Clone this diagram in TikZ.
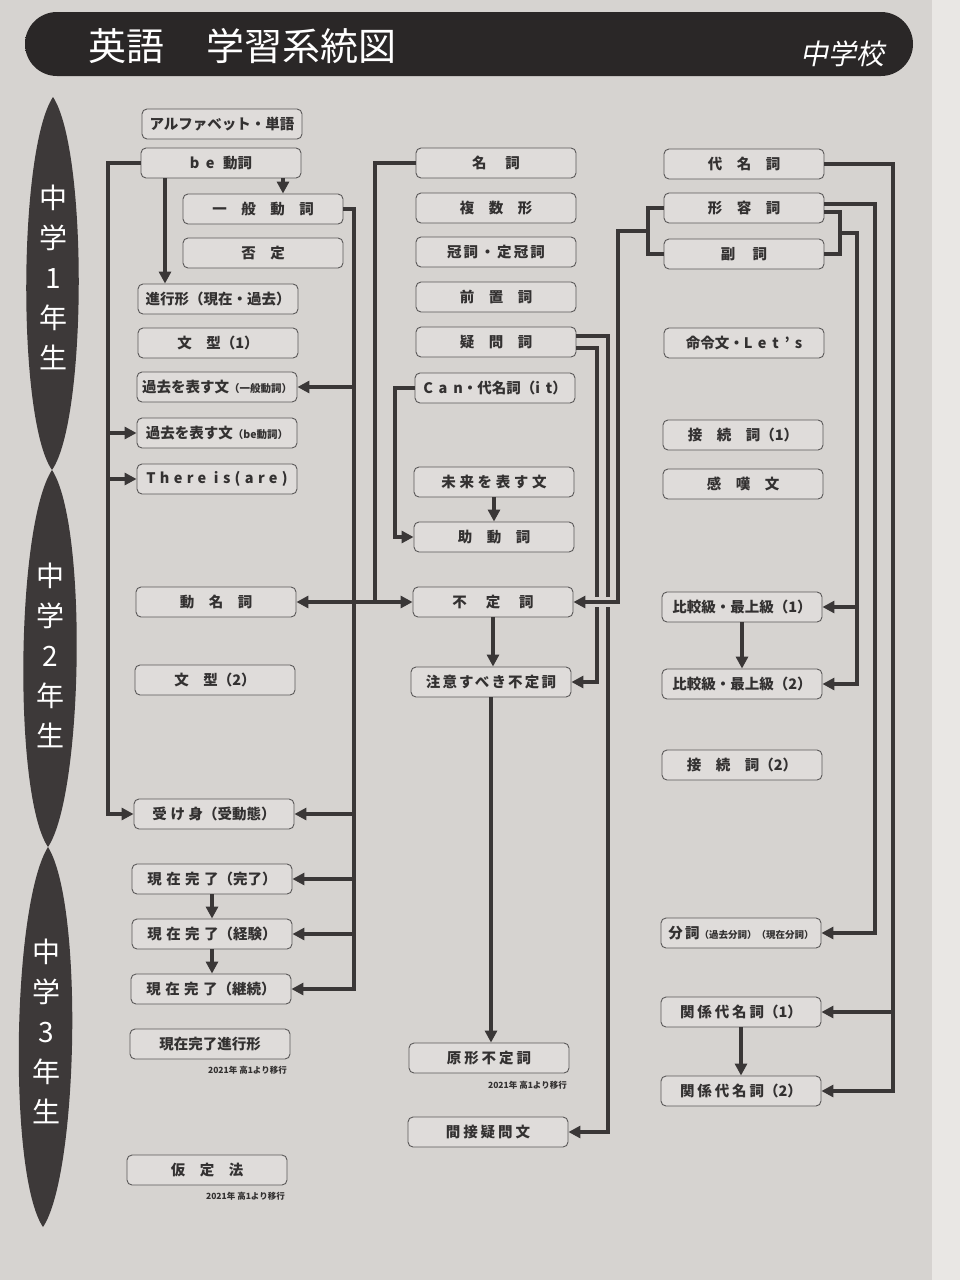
\documentclass[tikz,border=0pt]{standalone}
\usepackage{fontspec}
\newfontfamily\jp{Noto Sans CJK JP}
\usetikzlibrary{arrows.meta,calc}
\definecolor{bgc}{HTML}{D6D3D0}
\definecolor{edgec}{HTML}{E9E7E4}
\definecolor{boxfill}{HTML}{DFDCDA}
\definecolor{boxline}{HTML}{5A5858}
\definecolor{lnc}{HTML}{3A3737}
\definecolor{txt}{HTML}{333131}
\definecolor{pillc}{HTML}{3D3939}
\definecolor{hdA}{HTML}{2A2727}
\definecolor{hdB}{HTML}{5E5A5A}
\newcommand{\lsp}[2]{{\addfontfeature{LetterSpace=#1}#2}}
\newcommand{\sm}[1]{{\fontsize{10.5}{11}\selectfont #1}}
\newcommand{\gp}{\hspace{1em}}
\tikzset{
  box/.style={draw=boxline, fill=boxfill, rounded corners=5pt, line width=0.9pt,
    minimum width=160pt, minimum height=30pt, inner sep=0pt, text=txt,
    font=\jp\bfseries\fontsize{14.5}{16}\selectfont},
  conn/.style={draw=lnc, line width=3.6pt},
  arr/.style={conn, -{Triangle[length=12pt,width=12pt]}},
  darr/.style={conn, {Triangle[length=12pt,width=12pt]}-{Triangle[length=12pt,width=12pt]}},
  note/.style={font=\jp\bfseries\fontsize{8.5}{9}\selectfont, text=txt, inner sep=0pt},
  pilltxt/.style={align=center, text=white, inner sep=0pt,
    font=\jp\fontsize{28}{40}\selectfont},
}
\begin{document}
\begin{tikzpicture}[x=1pt,y=-1pt]
\useasboundingbox (0,0) rectangle (960,1280);
\fill[bgc] (0,0) rectangle (960,1280);
\fill[edgec] (932,0) rectangle (960,1280);

% header
\shade[rounded corners=32pt, top color=hdA, middle color=hdB, bottom color=hdA]
  (25,12) rectangle (913,76);
\node[anchor=west, text=white, inner sep=0pt, font=\jp\fontsize{38}{38}\selectfont] (title) at (88,46) {英語\hspace{1.1em}学習系統図};
\node[text=white, inner sep=0pt, font=\jp\fontsize{28}{28}\selectfont\addfontfeature{FakeSlant=0.2}] (school) at (842,54) {中学校};

% grade pills
\fill[pillc] (53,97) .. controls (18,150) and (17,420) .. (52,470) .. controls (87,420) and (88,150) .. (53,97);
\fill[pillc] (52,470) .. controls (16,525) and (13,795) .. (48,847) .. controls (83,795) and (88,525) .. (52,470);
\fill[pillc] (48,847) .. controls (12,905) and (8,1175) .. (43,1227) .. controls (78,1175) and (84,905) .. (48,847);
\node[pilltxt] (g1) at (53,277) {中\\学\\1\\年\\生};
\node[pilltxt] (g2) at (50,655) {中\\学\\2\\年\\生};
\node[pilltxt] (g3) at (46,1031) {中\\学\\3\\年\\生};

% column 1
\node[box] (alpha) at (222,124) {アルファベット・単語};
\node[box] (be) at (221,163) {b\hspace{0.45em}e\hspace{0.6em}動詞};
\node[box] (ippan) at (263,209) {一\gp 般\gp 動\gp 詞};
\node[box] (hitei) at (263,253) {否\gp 定};
\node[box] (shinko) at (218,299) {進行形（現在・過去）};
\node[box] (bunkei1) at (218,343) {文\gp 型（1）};
\node[box] (kakoip) at (217,387) {過去を表す文\sm{（一般動詞）}};
\node[box] (kakobe) at (217,433) {過去を表す文\sm{（be動詞）}};
\node[box] (there) at (217,479) {\lsp{30}{There is(are)}};
\node[box] (domei) at (216,602) {動\gp 名\gp 詞};
\node[box] (bunkei2) at (215,680) {文\gp 型（2）};
\node[box] (ukemi) at (214,814) {\lsp{25}{受け身}（受動態）};
\node[box] (kanryo) at (212,879) {\lsp{30}{現在完了}（完了）};
\node[box] (keiken) at (212,934) {\lsp{30}{現在完了}（経験）};
\node[box] (keizoku) at (211,989) {\lsp{30}{現在完了}（継続）};
\node[box] (shinkokei) at (210,1044) {現在完了進行形};
\node[note, anchor=east] (n1) at (287,1070) {2021年 高1より移行};
\node[box] (katei) at (207,1170) {仮\gp 定\gp 法};
\node[note, anchor=east] (n2) at (285,1196) {2021年 高1より移行};

% column 2
\node[box] (meishi) at (496,163) {名\hspace{1.3em}詞};
\node[box] (fukusu) at (496,208) {複\gp 数\gp 形};
\node[box] (kanshi) at (496,252) {\lsp{15}{冠詞・定冠詞}};
\node[box] (zenchi) at (496,297) {前\gp 置\gp 詞};
\node[box] (gimon) at (496,342) {疑\gp 問\gp 詞};
\node[box] (can) at (495,388) {\lsp{40}{Can}・代名詞（\lsp{40}{it}）};
\node[box] (mirai) at (494,482) {\lsp{25}{未来を表す文}};
\node[box] (jodoshi) at (494,537) {助\gp 動\gp 詞};
\node[box] (futei) at (493,602) {不\hspace{1.3em}定\hspace{1.3em}詞};
\node[box] (chui) at (491,682) {\lsp{15}{注意すべき不定詞}};
\node[box] (genkei) at (489,1058) {\lsp{20}{原形不定詞}};
\node[note, anchor=east] (n3) at (567,1085) {2021年 高1より移行};
\node[box] (kansetsu) at (488,1132) {\lsp{20}{間接疑問文}};

% column 3
\node[box] (daimei) at (744,164) {代\gp 名\gp 詞};
\node[box] (keiyo) at (744,208) {形\gp 容\gp 詞};
\node[box] (fukushi) at (744,254) {副\hspace{1.2em}詞};
\node[box] (meirei) at (744,343) {命令文・\lsp{40}{Let’s}};
\node[box] (setsu1) at (743,435) {接\gp 続\gp 詞（1）};
\node[box] (kantan) at (743,484) {感\gp 嘆\gp 文};
\node[box] (hikaku1) at (742,607) {比較級・最上級（1）};
\node[box] (hikaku2) at (742,684) {比較級・最上級（2）};
\node[box] (setsu2) at (742,765) {接\gp 続\gp 詞（2）};
\node[box] (bunshi) at (741,933) {分\,詞{\fontsize{9.5}{10}\selectfont（過去分詞）（現在分詞）}};
\node[box] (kankei1) at (741,1012) {\lsp{20}{関係代名詞}（1）};
\node[box] (kankei2) at (741,1091) {\lsp{20}{関係代名詞}（2）};

% bus coordinates
\coordinate (Lx) at (108,0);
\coordinate (Xa) at (165,0);
\coordinate (Xb) at (283,0);
\coordinate (R1) at (354,0);
\coordinate (M1) at (375,0);
\coordinate (M2) at (395,0);
\coordinate (V1) at (597,0);
\coordinate (V2) at (608,0);
\coordinate (V3) at (618,0);
\coordinate (B1) at (648,0);
\coordinate (bl) at (648,231);
\coordinate (B2) at (840,0);
\coordinate (br) at (840,233);
\coordinate (V4) at (857,0);
\coordinate (V5) at (875,0);
\coordinate (V6) at (893,0);

% column 1 connectors
\draw[arr] (be.south -| Xb) -- (Xb |- ippan.north);
\draw[arr] (be.south -| Xa) -- (Xa |- shinko.north);
\draw[arr] (be.west) -- (be.west -| Lx) |- (ukemi.west);
\draw[arr] (kakobe.west -| Lx) -- (kakobe.west);
\draw[arr] (there.west -| Lx) -- (there.west);
\draw[arr] (ippan.east) -- (ippan.east -| R1) |- (keizoku.east);
\foreach \n in {kakoip, ukemi, kanryo, keiken}
  \draw[arr] (\n.east -| R1) -- (\n.east);
\draw[arr] (kanryo.south) -- (kanryo.south |- keiken.north);
\draw[arr] (keiken.south) -- (keiken.south |- keizoku.north);

% column 2 connectors
\draw[conn] (meishi.west) -- (meishi.west -| M1) -- (M1 |- futei.west);
\draw[darr] (domei.east) -- (futei.west);
\draw[arr] (can.west) -- (can.west -| M2) |- (jodoshi.west);
\draw[arr] (mirai.south) -- (mirai.south |- jodoshi.north);
\draw[arr] (futei.south) -- (futei.south |- chui.north);
\draw[arr] (chui.south) -- (chui.south |- genkei.north);
\draw[arr] ([yshift=6pt]gimon.east) -- ([yshift=6pt]gimon.east -| V2) |- (kansetsu.east);
\draw[arr] ([yshift=-6pt]gimon.east) -- ([yshift=-6pt]gimon.east -| V1) |- (chui.east);

% adjective / adverb brackets
\draw[conn] (keiyo.west) -- (keiyo.west -| B1) |- (fukushi.west);
\draw[bgc, line width=10pt] ($(V1 |- futei.east)+(-7,0)$) -- ($(V2 |- futei.east)+(6,0)$);
\draw[arr] (bl) -- (bl -| V3) |- (futei.east);
\draw[conn] ([yshift=-4pt]keiyo.east) -- ([yshift=-4pt]keiyo.east -| B2) |- (fukushi.east);
\draw[arr] (br) -- (br -| V4) |- (hikaku2.east);
\draw[arr] (hikaku1.east -| V4) -- (hikaku1.east);
\draw[arr] ([yshift=4pt]keiyo.east) -- ([yshift=4pt]keiyo.east -| V5) |- (bunshi.east);
\draw[arr] (daimei.east) -- (daimei.east -| V6) |- (kankei2.east);
\draw[arr] (kankei1.east -| V6) -- (kankei1.east);
\draw[arr] (hikaku1.south) -- (hikaku1.south |- hikaku2.north);
\draw[arr] (kankei1.south) -- (kankei1.south |- kankei2.north);
\end{tikzpicture}
\end{document}
